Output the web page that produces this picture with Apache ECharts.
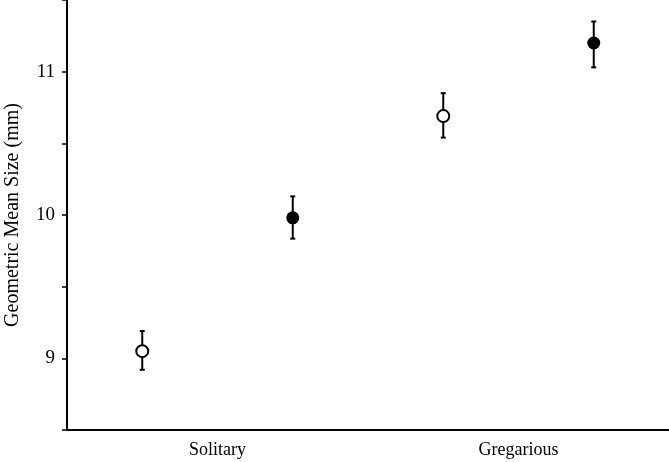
<!DOCTYPE html>
<html>
<head>
<meta charset="utf-8">
<script src="https://cdn.jsdelivr.net/npm/echarts@6/dist/echarts.min.js"></script>
<style>html,body{margin:0;padding:0;background:#fff}#c{width:669px;height:462px}</style>
</head>
<body>
<div id="c"></div>
<script>
const categories = ['Solitary', 'Gregarious'];
const categoryPos = [1, 3];
// open circles
const openX = [0.5, 2.5];
const openMean = [9.05, 10.69];
const openLow = [8.92, 10.54];
const openHigh = [9.19, 10.85];
// filled circles
const filledX = [1.5, 3.5];
const filledMean = [9.98, 11.2];
const filledLow = [9.835, 11.03];
const filledHigh = [10.13, 11.35];

const font = '"Liberation Serif", "Times New Roman", serif';
const chart = echarts.init(document.getElementById('c'));

function errData(xs, lo, hi) { return xs.map((x, i) => [x, lo[i], hi[i]]); }
function renderErr(params, api) {
  const x = api.value(0);
  const p1 = api.coord([x, api.value(1)]);
  const p2 = api.coord([x, api.value(2)]);
  const w = 2.5;
  const st = { stroke: '#000', lineWidth: 2 };
  return { type: 'group', children: [
    { type: 'line', shape: { x1: p1[0], y1: p1[1], x2: p2[0], y2: p2[1] }, style: st },
    { type: 'line', shape: { x1: p1[0]-w, y1: p1[1], x2: p1[0]+w, y2: p1[1] }, style: st },
    { type: 'line', shape: { x1: p2[0]-w, y1: p2[1], x2: p2[0]+w, y2: p2[1] }, style: st }
  ]};
}

chart.setOption({
  animation: false,
  backgroundColor: '#fff',
  grid: { left: 67, right: 0, top: 0, bottom: 32, containLabel: false, outerBoundsMode: 'none' },
  xAxis: {
    type: 'value', min: 0, max: 4, interval: 1,
    axisLine: { show: true, lineStyle: { color: '#000', width: 2 } },
    axisTick: { show: false },
    splitLine: { show: false },
    axisLabel: {
      color: '#000', fontFamily: font, fontSize: 18, margin: 11,
      formatter: v => { const i = categoryPos.indexOf(v); return i >= 0 ? categories[i] : ''; }
    }
  },
  yAxis: {
    type: 'value', min: 8.5, max: 11.5, interval: 0.5,
    name: 'Geometric Mean Size (mm)', nameLocation: 'middle', nameGap: 44,
    nameTextStyle: { color: '#000', fontFamily: font, fontSize: 20 },
    axisLine: { show: true, lineStyle: { color: '#000', width: 2 } },
    axisTick: { show: true, length: 5, lineStyle: { color: '#000', width: 1.5 } },
    splitLine: { show: false },
    axisLabel: {
      color: '#000', fontFamily: font, fontSize: 19, margin: 12,
      formatter: v => (Math.abs(v - Math.round(v)) < 1e-6 && v > 8.5 && v < 11.5) ? String(Math.round(v)) : ''
    }
  },
  series: [
    { type: 'custom', renderItem: renderErr, data: errData(openX, openLow, openHigh), z: 2 },
    { type: 'custom', renderItem: renderErr, data: errData(filledX, filledLow, filledHigh), z: 2 },
    { type: 'scatter', symbol: 'circle', symbolSize: 12, z: 5,
      itemStyle: { color: '#fff', borderColor: '#000', borderWidth: 2, opacity: 1 },
      data: openX.map((x, i) => [x, openMean[i]]) },
    { type: 'scatter', symbol: 'circle', symbolSize: 13, z: 5,
      itemStyle: { color: '#000', borderColor: '#000', borderWidth: 0, opacity: 1 },
      data: filledX.map((x, i) => [x, filledMean[i]]) }
  ]
});
</script>
</body>
</html>
